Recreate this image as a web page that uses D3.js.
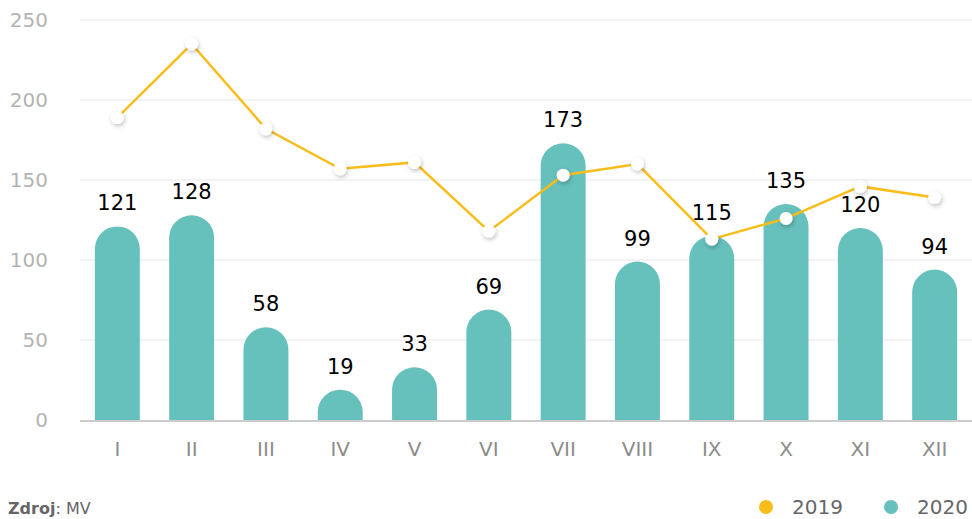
<!DOCTYPE html>
<html>
<head>
<meta charset="utf-8">
<script src="https://cdn.jsdelivr.net/npm/d3@7"></script>
<style>
    body { margin: 0; background: #fff; }
    svg { display: block; font-family: "DejaVu Sans", Verdana, sans-serif; }
</style>
</head>
<body>
<div class="chart"></div>
<script>
var months = ['I', 'II', 'III', 'IV', 'V', 'VI', 'VII', 'VIII', 'IX', 'X', 'XI', 'XII']
var values2020 = [121, 128, 58, 19, 33, 69, 173, 99, 115, 135, 120, 94]
var values2019 = [189, 235, 182, 157, 161, 118, 153, 160, 113, 126, 146, 139]
var yTicks = [0, 50, 100, 150, 200, 250]
var legendItems = ['2019', '2020']

var width = 972
var height = 519
var margin = { top: 20, right: 0, bottom: 99, left: 80 }
var barColor = '#66c0bc'
var lineColor = '#f9bd1b'

var svg = d3.select('.chart').append('svg')
    .attr('width', width)
    .attr('height', height)

var defs = svg.append('defs')
var shadow = defs.append('filter').attr('id', 'shadow')
    .attr('x', '-100%').attr('y', '-100%').attr('width', '300%').attr('height', '300%')
shadow.append('feDropShadow')
    .attr('dx', 1).attr('dy', 2).attr('stdDeviation', 2)
    .attr('flood-color', '#000').attr('flood-opacity', 0.25)

var scaleX = d3.scaleBand().domain(months)
    .range([margin.left, width - margin.right])
    .paddingInner(0.395).paddingOuter(0.2)
var scaleY = d3.scaleLinear().domain([0, 250])
    .range([height - margin.bottom, margin.top])

// grid
svg.append('g')
    .selectAll('line')
    .data(yTicks.filter(d => d > 0))
    .enter()
    .append('line')
    .attr('x1', margin.left)
    .attr('x2', width - margin.right)
    .attr('y1', d => scaleY(d))
    .attr('y2', d => scaleY(d))
    .attr('stroke', '#e6e6e6')
    .attr('stroke-width', 1)

// y labels
svg.append('g')
    .selectAll('text')
    .data(yTicks)
    .enter()
    .append('text')
    .attr('x', 48)
    .attr('y', d => scaleY(d) + 7)
    .attr('text-anchor', 'end')
    .attr('font-size', 20)
    .attr('fill', '#b3b3b3')
    .text(d => d)

// bars with rounded tops
var bw = scaleX.bandwidth()
function barPath(d, i) {
    var x0 = scaleX(months[i])
    var y0 = scaleY(0)
    var y1 = scaleY(d)
    var r = Math.min(bw / 2, y0 - y1)
    return 'M' + x0 + ',' + y0 +
        'V' + (y1 + r) +
        'A' + (bw / 2) + ',' + r + ' 0 0 1 ' + (x0 + bw) + ',' + (y1 + r) +
        'V' + y0 + 'Z'
}
svg.append('g')
    .selectAll('path')
    .data(values2020)
    .enter()
    .append('path')
    .attr('d', barPath)
    .attr('fill', barColor)

// x axis
svg.append('line')
    .attr('x1', margin.left)
    .attr('x2', width - margin.right)
    .attr('y1', scaleY(0) + 1)
    .attr('y2', scaleY(0) + 1)
    .attr('stroke', '#cccccc')
    .attr('stroke-width', 2)

svg.append('g')
    .selectAll('text')
    .data(months)
    .enter()
    .append('text')
    .attr('x', d => scaleX(d) + bw / 2)
    .attr('y', scaleY(0) + 36)
    .attr('text-anchor', 'middle')
    .attr('font-size', 20)
    .attr('fill', '#8c8c8c')
    .text(d => d)

// 2019 line
var line = d3.line()
    .x((d, i) => scaleX(months[i]) + bw / 2)
    .y(d => scaleY(d))
svg.append('path')
    .datum(values2019)
    .attr('d', line)
    .attr('fill', 'none')
    .attr('stroke', lineColor)
    .attr('stroke-width', 2.5)

svg.append('g')
    .selectAll('circle')
    .data(values2019)
    .enter()
    .append('circle')
    .attr('cx', (d, i) => scaleX(months[i]) + bw / 2)
    .attr('cy', d => scaleY(d))
    .attr('r', 6.5)
    .attr('fill', '#fff')
    .attr('filter', 'url(#shadow)')

// bar value labels
svg.append('g')
    .selectAll('text')
    .data(values2020)
    .enter()
    .append('text')
    .attr('x', (d, i) => scaleX(months[i]) + bw / 2)
    .attr('y', d => scaleY(d) - 16)
    .attr('text-anchor', 'middle')
    .attr('font-size', 21)
    .attr('fill', '#000')
    .text(d => d)

// source
var src = svg.append('text')
    .attr('x', 8)
    .attr('y', 514)
    .attr('font-size', 16)
    .attr('fill', '#666')
src.append('tspan').attr('font-weight', 'bold').text('Zdroj')
src.append('tspan').text(': MV')

// legend
var legendColors = [lineColor, barColor]
var legendX = [766, 891]
var legend = svg.append('g')
    .selectAll('g')
    .data(legendItems)
    .enter()
    .append('g')
    .attr('transform', (d, i) => 'translate(' + legendX[i] + ',' + 507 + ')')
legend.append('circle')
    .attr('r', 7)
    .attr('fill', (d, i) => legendColors[i])
legend.append('text')
    .attr('x', 26)
    .attr('y', 7)
    .attr('font-size', 20)
    .attr('fill', '#666')
    .text(d => d)
</script>
</body>
</html>
